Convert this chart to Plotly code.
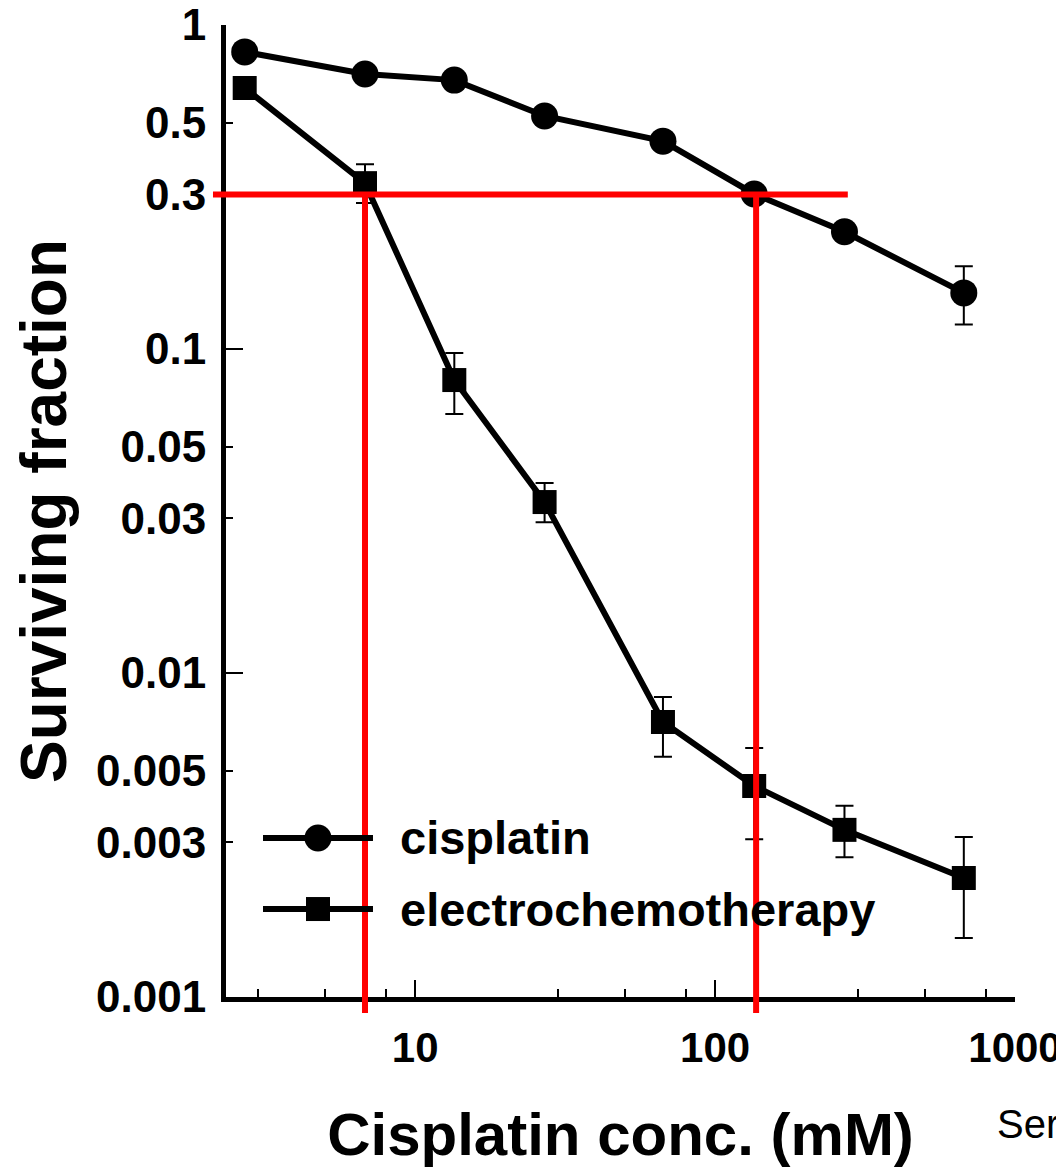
import math
import plotly.graph_objects as go

# ---------------- data ----------------
conc = [2.7, 6.8, 13.5, 27, 67, 135, 270, 675]

cis_sf = [0.826, 0.706, 0.676, 0.524, 0.438, 0.301, 0.230, 0.149]
cis_hi = [None, None, None, None, None, None, None, 0.180]
cis_lo = [None, None, None, None, None, None, None, 0.119]

ect_sf = [0.639, 0.325, 0.0802, 0.0337, 0.00706, 0.00448, 0.00328, 0.00233]
ect_hi = [None, 0.372, 0.0972, 0.0386, 0.00843, 0.00587, 0.00389, 0.00312]
ect_lo = [None, 0.282, 0.0630, 0.0292, 0.00551, 0.00307, 0.00270, 0.00152]

x_major = [10, 100, 1000]
x_minor = [3, 5, 8, 30, 50, 80, 300, 500, 800]
y_labels = [1, 0.5, 0.3, 0.1, 0.05, 0.03, 0.01, 0.005, 0.003, 0.001]
y_label_text = ["1", "0.5", "0.3", "0.1", "0.05", "0.03", "0.01", "0.005", "0.003", "0.001"]
y_major = [1, 0.1, 0.01, 0.001]

sf_cut = 0.3            # surviving fraction of the red guide line
conc_cut = [6.8, 137]   # concentrations where guide lines drop
h_line_end = 277        # right end of horizontal guide

series_names = ["cisplatin", "electrochemotherapy"]

X_RANGE = [0.369, 3.0]
Y_RANGE = [-3.0, 0.0]

FONT = "Liberation Sans, Arial, Helvetica, sans-serif"


def errs(vals, hi, lo):
    plus, minus = [], []
    for v, h, l in zip(vals, hi, lo):
        plus.append(0 if h is None else h - v)
        minus.append(0 if l is None else v - l)
    return plus, minus


cp, cm = errs(cis_sf, cis_hi, cis_lo)
ep, em = errs(ect_sf, ect_hi, ect_lo)

LINE_W = 6

fig = go.Figure()

fig.add_trace(go.Scatter(
    x=conc, y=cis_sf, name=series_names[0], mode="lines+markers",
    line=dict(color="black", width=LINE_W),
    marker=dict(symbol="circle", size=27, color="black"),
    error_y=dict(type="data", array=cp, arrayminus=cm, symmetric=False,
                 color="black", thickness=2, width=9),
    showlegend=False,
))
fig.add_trace(go.Scatter(
    x=conc, y=ect_sf, name=series_names[1], mode="lines+markers",
    line=dict(color="black", width=LINE_W),
    marker=dict(symbol="square", size=24, color="black"),
    error_y=dict(type="data", array=ep, arrayminus=em, symmetric=False,
                 color="black", thickness=2, width=9),
    showlegend=False,
))
# empty trace to host the overlay axis carrying the long decade ticks
fig.add_trace(go.Scatter(x=[], y=[], yaxis="y2", showlegend=False, hoverinfo="skip"))

# ------------- red guide lines -------------
def xpaper(v):
    return (math.log10(v) - X_RANGE[0]) / (X_RANGE[1] - X_RANGE[0])


def ypaper(v):
    return (math.log10(v) - Y_RANGE[0]) / (Y_RANGE[1] - Y_RANGE[0])


RED = "#ff0000"
shapes = [
    dict(type="line", xref="paper", yref="y", x0=-0.0165, x1=xpaper(h_line_end),
         y0=sf_cut, y1=sf_cut, line=dict(color=RED, width=6), layer="above"),
]
for c in conc_cut:
    shapes.append(dict(type="line", xref="x", yref="paper", x0=c, x1=c,
                       y0=-0.0165, y1=ypaper(sf_cut),
                       line=dict(color=RED, width=6), layer="above"))

# ------------- hand-drawn legend -------------
leg_x0, leg_x1, leg_xm, leg_tx = 0.0469, 0.1863, 0.1166, 0.2180
leg_y = [0.1636, 0.0905]
annotations = []
for i, (name, sym) in enumerate(zip(series_names, ["circle", "rect"])):
    y = leg_y[i]
    shapes.append(dict(type="line", xref="paper", yref="paper", x0=leg_x0, x1=leg_x1,
                       y0=y, y1=y, line=dict(color="black", width=LINE_W)))
    r = 13.5 if sym == "circle" else 12
    shapes.append(dict(type=sym, xref="paper", yref="paper", xsizemode="pixel",
                       ysizemode="pixel", xanchor=leg_xm, yanchor=y,
                       x0=-r, x1=r, y0=-r, y1=r,
                       fillcolor="black", line=dict(color="black", width=0)))
    annotations.append(dict(xref="paper", yref="paper", x=leg_tx, y=y, text=name,
                            showarrow=False, xanchor="left", yanchor="middle",
                            font=dict(family=FONT, size=47, color="black", weight="bold")))

annotations.append(dict(xref="paper", yref="paper", x=0.9747, y=-0.131, text="Ser",
                        showarrow=False, xanchor="left", yanchor="middle",
                        font=dict(family=FONT, size=40, color="black")))

# the page body adds an 8 px margin, so the figure is 8 px smaller each way
fig.update_layout(
    width=1056, height=1164,
    margin=dict(l=218, r=49, t=17, b=175, autoexpand=False),
    paper_bgcolor="white", plot_bgcolor="white",
    font=dict(family=FONT, color="black"),
    shapes=shapes, annotations=annotations,
    xaxis=dict(
        type="log", range=X_RANGE, showgrid=False, zeroline=False, automargin=False,
        showline=True, linecolor="black", linewidth=5,
        tickmode="array", tickvals=x_major, ticktext=[str(v) for v in x_major],
        ticks="inside", ticklen=17, tickwidth=2, tickcolor="black",
        minor=dict(tickmode="array", tickvals=x_minor, ticks="inside",
                   ticklen=8, tickwidth=2, tickcolor="black", showgrid=False),
        tickfont=dict(family=FONT, size=42, color="black", weight="bold"),
        ticklabelstandoff=10, ticklabeloverflow="allow",
        title=dict(text="Cisplatin conc. (mM)", standoff=44,
                   font=dict(family=FONT, size=60, color="black", weight="bold")),
    ),
    yaxis=dict(
        type="log", range=Y_RANGE, showgrid=False, zeroline=False, automargin=False,
        showline=True, linecolor="black", linewidth=5,
        tickmode="array", tickvals=y_labels, ticktext=y_label_text,
        ticks="inside", ticklen=7, tickwidth=2, tickcolor="black",
        tickfont=dict(family=FONT, size=44, color="black", weight="bold"),
        ticklabelstandoff=6, ticklabeloverflow="allow",
        title=dict(text="Surviving fraction", standoff=22,
                   font=dict(family=FONT, size=64, color="black", weight="bold")),
    ),
    yaxis2=dict(
        type="log", range=Y_RANGE, overlaying="y", side="left", automargin=False,
        showgrid=False, zeroline=False, showline=False,
        tickmode="array", tickvals=y_major, showticklabels=False,
        ticks="inside", ticklen=17, tickwidth=2, tickcolor="black",
    ),
)

fig.write_html("out.html")
